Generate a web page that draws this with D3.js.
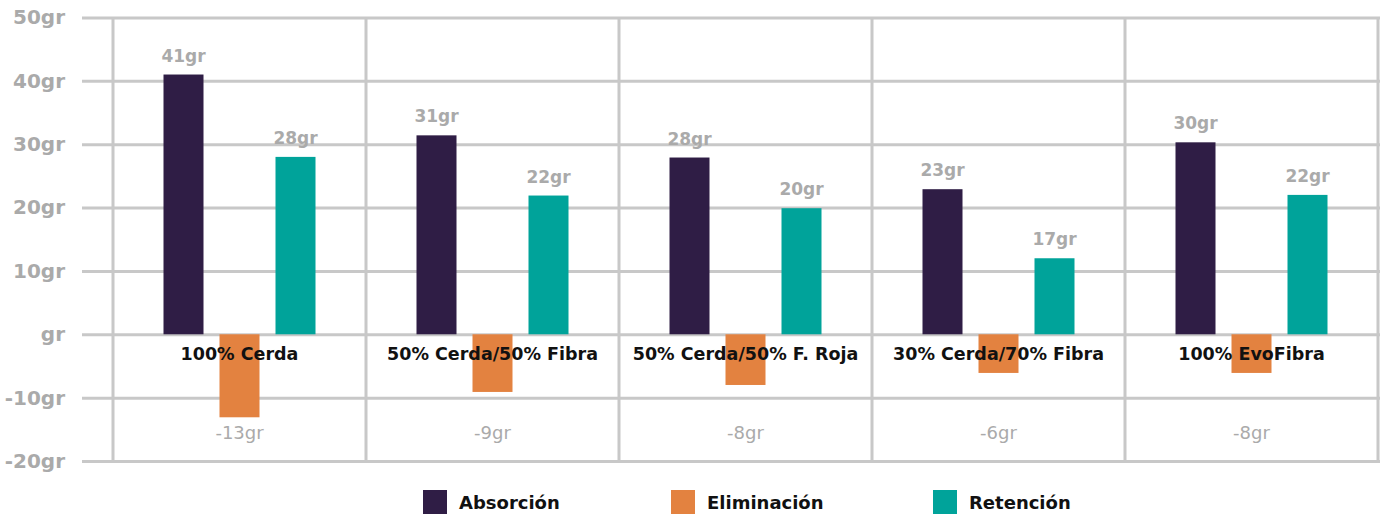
<!DOCTYPE html>
<html>
<head>
<meta charset="utf-8">
<script src="https://cdn.jsdelivr.net/npm/d3@7"></script>
<style>
  body { margin: 0; background: #fff; }
  text { font-family: "DejaVu Sans", sans-serif; }
  .grid line { stroke: #c8c8c8; stroke-width: 3; }
  .grid path { display: none; }
</style>
</head>
<body>
<div id="chart"></div>
<script>
var categories = ["100% Cerda", "50% Cerda/50% Fibra", "50% Cerda/50% F. Roja", "30% Cerda/70% Fibra", "100% EvoFibra"];
var series = ["Absorción", "Eliminación", "Retención"];
var colors = ["#2f1d45", "#e38240", "#00a39a"];

var absorcion = [41, 31.4, 27.9, 22.9, 30.3];
var eliminacion = [-13.1, -9.1, -8, -6.1, -6.1];
var retencion = [28, 21.9, 19.9, 12, 22];

// labels printed on the chart (they don't always match the bar heights)
var absorcionLabels = ["41gr", "31gr", "28gr", "23gr", "30gr"];
var eliminacionLabels = ["-13gr", "-9gr", "-8gr", "-6gr", "-8gr"];
var retencionLabels = ["28gr", "22gr", "20gr", "17gr", "22gr"];

var yTicks = [-20, -10, 0, 10, 20, 30, 40, 50];

var margin = { top: 17.5, right: 6, bottom: 57, left: 113 },
    width = 1384 - margin.left - margin.right,
    height = 518 - margin.top - margin.bottom;

var svg = d3.select("#chart")
    .append("svg")
    .attr("width", 1384)
    .attr("height", 518)
    .append("g")
    .attr("transform", "translate(" + margin.left + "," + margin.top + ")");

var plotW = 1265;

var x0 = d3.scaleBand()
    .domain(categories)
    .range([0, plotW]);

var x1 = d3.scaleBand()
    .domain(series)
    .range([-92, 92])
    .padding(0.2857);

var y = d3.scaleLinear()
    .domain([-20, 50])
    .range([height, 0]);

var data = categories.map(function (c, i) {
    return {
        cat: c,
        values: [
            { key: series[0], value: absorcion[i], label: absorcionLabels[i] },
            { key: series[1], value: eliminacion[i], label: eliminacionLabels[i] },
            { key: series[2], value: retencion[i], label: retencionLabels[i] }
        ]
    };
});

// horizontal grid + tick labels
var yAxis = d3.axisLeft(y)
    .tickValues(yTicks)
    .tickSize(-(plotW + 33))
    .tickFormat(function (d) { return (d === 0 ? "" : d) + "gr"; });

var gy = svg.append("g")
    .attr("class", "grid")
    .attr("transform", "translate(-31,0)")
    .call(yAxis);

gy.selectAll(".tick text")
    .attr("x", -17)
    .attr("fill", "#aaaaaa")
    .style("font-size", "20px")
    .style("font-weight", "bold");

// vertical grid lines at band edges
var edges = categories.map(function (c) { return x0(c); }).concat([plotW]);
svg.selectAll(".vline")
    .data(edges)
    .enter()
    .append("line")
    .attr("class", "vline")
    .attr("x1", function (d) { return d; })
    .attr("x2", function (d) { return d; })
    .attr("y1", y(50))
    .attr("y2", y(-20))
    .attr("stroke", "#c8c8c8")
    .attr("stroke-width", 3);

var groups = svg.selectAll(".cat")
    .data(data)
    .enter()
    .append("g")
    .attr("class", "cat")
    .attr("transform", function (d) { return "translate(" + (x0(d.cat) + x0.bandwidth() / 2) + ",0)"; });

groups.selectAll("rect")
    .data(function (d) { return d.values; })
    .enter()
    .append("rect")
    .attr("x", function (d) { return x1(d.key); })
    .attr("width", x1.bandwidth())
    .attr("y", function (d) { return y(Math.max(0, d.value)); })
    .attr("height", function (d) { return Math.abs(y(d.value) - y(0)); })
    .attr("fill", function (d, i) { return colors[i]; });

// value labels
groups.selectAll(".vlabel")
    .data(function (d) { return d.values; })
    .enter()
    .append("text")
    .attr("class", "vlabel")
    .attr("x", function (d) { return x1(d.key) + x1.bandwidth() / 2; })
    .attr("y", function (d) { return d.value >= 0 ? y(d.value) - 13 : y(-16.5); })
    .attr("text-anchor", "middle")
    .attr("fill", "#aaaaaa")
    .style("font-size", function (d) { return d.value >= 0 ? "17px" : "18px"; })
    .style("font-weight", function (d) { return d.value >= 0 ? "bold" : "normal"; })
    .text(function (d) { return d.label; });

// category labels
groups.append("text")
    .attr("x", 0)
    .attr("y", y(0) + 26)
    .attr("text-anchor", "middle")
    .attr("fill", "#111")
    .style("font-size", "17.5px")
    .style("font-weight", "bold")
    .text(function (d) { return d.cat; });

// legend
var legendX = [423, 671, 933];
var legend = d3.select("svg").selectAll(".legend")
    .data(series)
    .enter()
    .append("g")
    .attr("class", "legend")
    .attr("transform", function (d, i) { return "translate(" + legendX[i] + ",490)"; });

legend.append("rect")
    .attr("width", 24)
    .attr("height", 24)
    .attr("fill", function (d, i) { return colors[i]; });

legend.append("text")
    .attr("x", 36)
    .attr("y", 19)
    .attr("fill", "#111")
    .style("font-size", "18px")
    .style("font-weight", "bold")
    .text(function (d) { return d; });
</script>
</body>
</html>
